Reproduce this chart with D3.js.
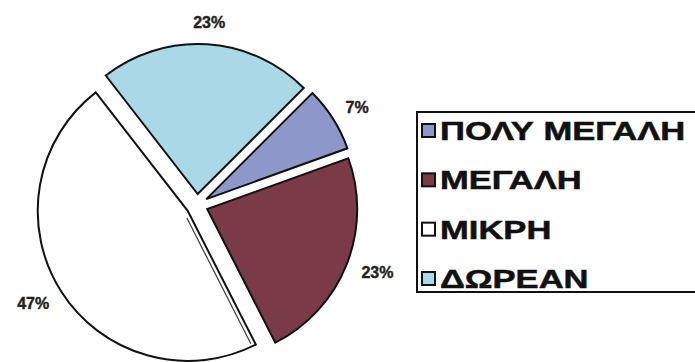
<!DOCTYPE html>
<html>
<head>
<meta charset="utf-8">
<script src="https://cdn.jsdelivr.net/npm/d3@7/dist/d3.min.js"></script>
<style>
  html, body { margin: 0; padding: 0; background: #fff; }
  svg { display: block; }
</style>
</head>
<body>
<svg id="chart" width="695" height="362"></svg>
<script>
// Share of answers per category (percent)
const categories = ["ΠΟΛΥ ΜΕΓΑΛΗ", "ΜΕΓΑΛΗ", "ΜΙΚΡΗ", "ΔΩΡΕΑΝ"];
const values = [7, 23, 47, 23];
const labels = ["7%", "23%", "47%", "23%"];
const colors = ["#8d97c9", "#7b3a47", "#ffffff", "#aad8e6"];

const svg = d3.select("#chart");

const cx = 197, cy = 205, R = 150, explode = 11;

const data = categories.map((c, i) => ({ name: c, value: values[i], label: labels[i], color: colors[i] }));

const pie = d3.pie()
  .sort(null)
  .value(d => d.value)
  .startAngle(Math.PI / 4)
  .endAngle(Math.PI / 4 + 2 * Math.PI);

const arcs = pie(data);
const arc = d3.arc().innerRadius(0).outerRadius(R);

const g = svg.append("g").attr("transform", `translate(${cx},${cy})`);

const mid = a => (a.startAngle + a.endAngle) / 2;

// exploded slices
const slice = g.selectAll("g.slice")
  .data(arcs)
  .join("g")
  .attr("class", "slice")
  .attr("transform", d => {
    const m = mid(d);
    return `translate(${explode * Math.sin(m)},${-explode * Math.cos(m)})`;
  });

slice.append("path")
  .attr("d", arc)
  .attr("fill", d => d.data.color)
  .attr("stroke", "#111")
  .attr("stroke-width", 2)
  .attr("stroke-linejoin", "miter");

// thin shadow line running along the leading edge of the white slice
slice.filter(d => d.data.color === "#ffffff")
  .append("line")
  .each(function (d) {
    const a = d.startAngle;
    const ux = Math.sin(a), uy = -Math.cos(a);
    // inward normal (towards the inside of the slice)
    const nx = -uy, ny = ux;
    const off = 4;
    d3.select(this)
      .attr("x1", 6 * ux + off * nx).attr("y1", 6 * uy + off * ny)
      .attr("x2", (R - 3) * ux + off * nx).attr("y2", (R - 3) * uy + off * ny);
  })
  .attr("stroke", "#444")
  .attr("stroke-width", 1.3);

// percentage labels outside each slice
const labelR = 178;
g.selectAll("text.pct")
  .data(arcs)
  .join("text")
  .attr("class", "pct")
  .attr("font-family", "'Liberation Sans', Arial, sans-serif")
  .attr("font-weight", "bold")
  .attr("font-size", 16)
  .attr("fill", "#222")
  .attr("stroke", "#222")
  .attr("stroke-width", 0.4)
  .attr("text-anchor", "middle")
  .text(d => d.data.label)
  .each(function (d) {
    const m = mid(d);
    const hw = this.getComputedTextLength() / 2;
    const sx = Math.sin(m), sy = -Math.cos(m);
    const x = labelR * sx + hw * sx;
    const y = labelR * sy + 5 * sy + 6;
    d3.select(this).attr("x", x).attr("y", y);
  });

// legend
const legX = 417, legY = 112, legW = 290, legH = 180;
const legend = svg.append("g");
legend.append("rect")
  .attr("x", legX).attr("y", legY)
  .attr("width", legW).attr("height", legH)
  .attr("fill", "#fff")
  .attr("stroke", "#111")
  .attr("stroke-width", 2);

const rowY = d3.scalePoint()
  .domain(categories)
  .range([131, 279]);

const item = legend.selectAll("g.item")
  .data(data)
  .join("g")
  .attr("class", "item")
  .attr("transform", d => `translate(${legX + 5},${rowY(d.name)})`);

item.append("rect")
  .attr("x", 0).attr("y", -7)
  .attr("width", 13).attr("height", 13)
  .attr("fill", d => d.color)
  .attr("stroke", "#111")
  .attr("stroke-width", 2);

item.append("text")
  .attr("transform", "translate(18,9) scale(1.33,1)")
  .attr("font-family", "'Liberation Sans', Arial, sans-serif")
  .attr("font-weight", "bold")
  .attr("font-size", 26)
  .attr("fill", "#111")
  .attr("stroke", "#111")
  .attr("stroke-width", 0.5)
  .text(d => d.name);
</script>
</body>
</html>
